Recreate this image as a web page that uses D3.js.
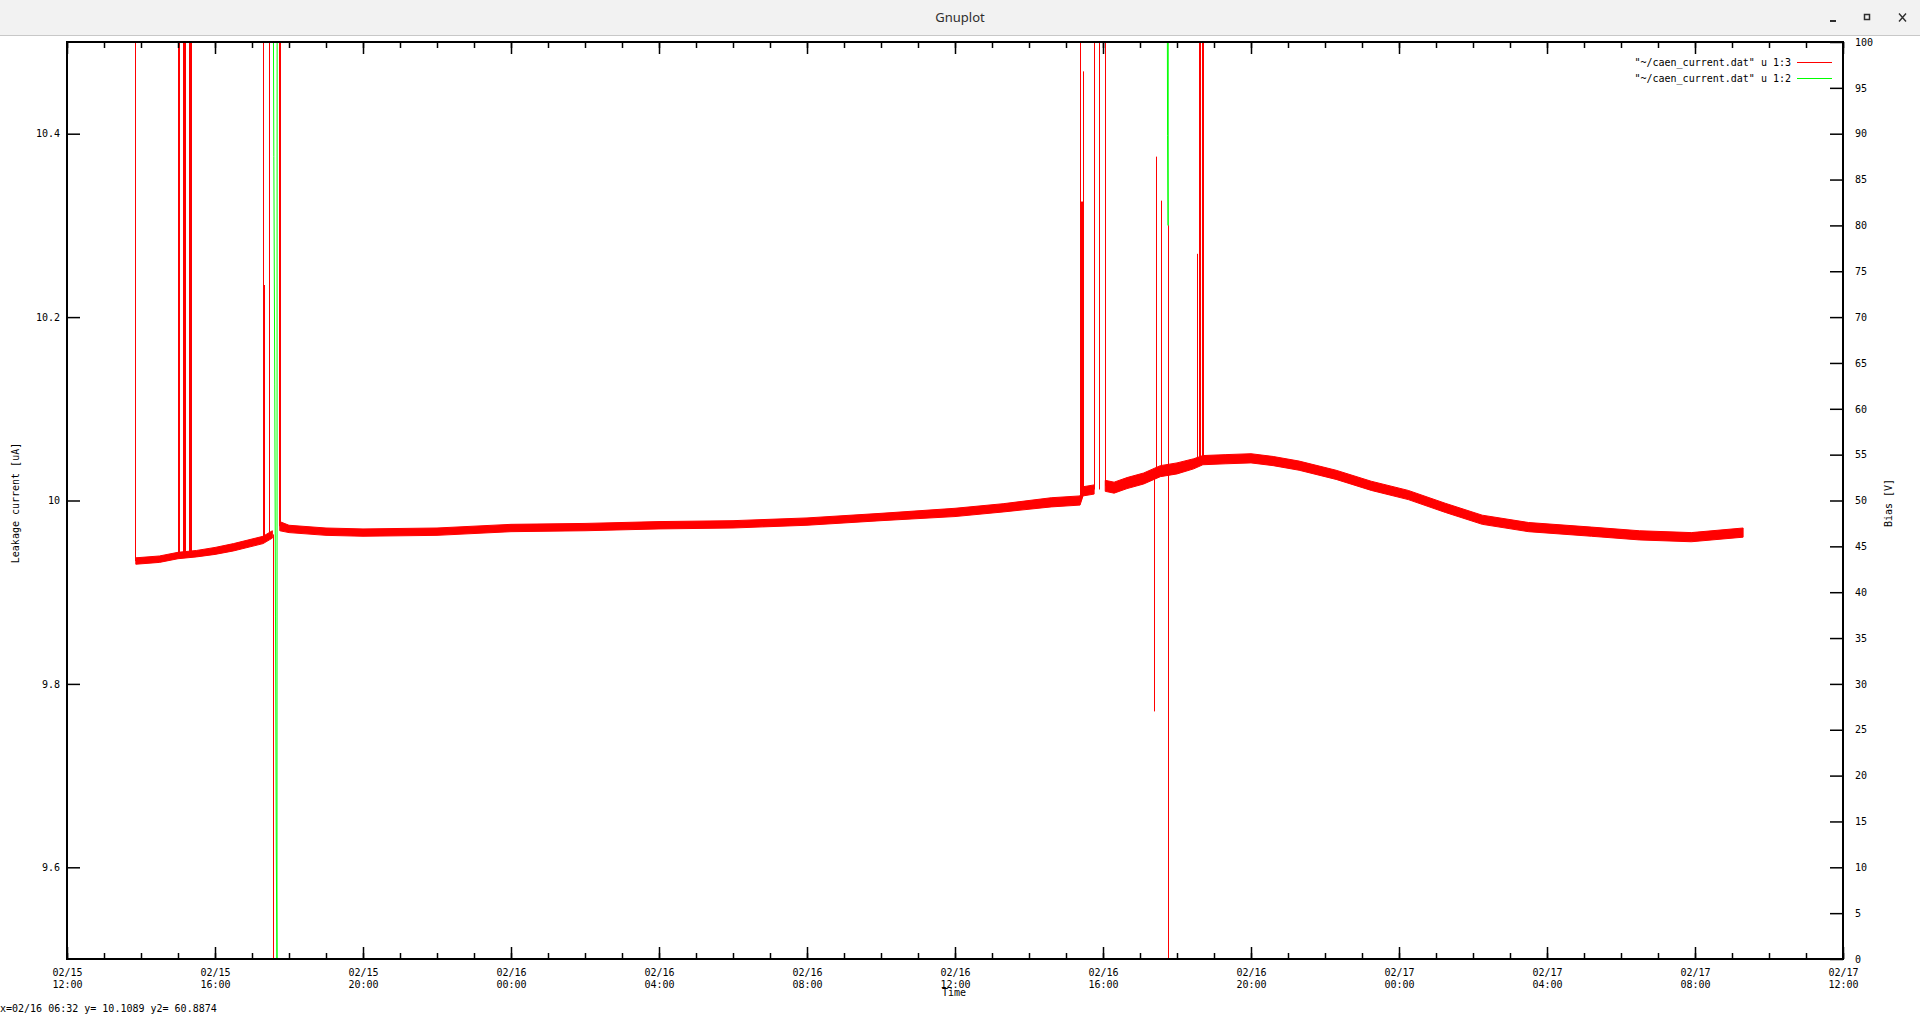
<!DOCTYPE html>
<html>
<head>
<meta charset="utf-8">
<script src="https://cdn.jsdelivr.net/npm/d3@7"></script>
<style>
  html, body { margin: 0; padding: 0; background: #fff; overflow: hidden; }
  svg { display: block; }
  .gp text { font-family: 'DejaVu Sans Mono', monospace; font-size: 10px; fill: #000; }
</style>
</head>
<body>
<svg id="chart" width="1920" height="1014"></svg>
<script>
// time is in hours after 02/15 12:00
const t0 = new Date(2019, 1, 15, 12, 0);
const tEnd = new Date(2019, 1, 17, 12, 0);

// centre of the noisy current band (uA), null = gap (trace off scale)
const trendHours = [1.86, 2.5, 3.0, 3.5, 4.0, 4.5, 5.0, 5.3, 5.55, 5.65,
  5.75, 6.0, 7.0, 8.0, 10.0, 12.0, 14.0, 16.0, 18.0, 20.0, 22.0, 24.0, 25.3, 26.6, 27.38,
  27.46, 27.76, 27.9,
  28.06, 28.3, 28.65, 29.1, 29.55, 30.0, 30.45, 30.7, 31.3, 32.0, 32.6, 33.3, 34.3,
  35.25, 36.25, 37.25, 38.25, 39.5, 41.2, 42.5, 43.9, 45.3];
const trendCurrent = [9.934, 9.936, 9.940, 9.942, 9.945, 9.949, 9.954, 9.957, 9.963, null,
  9.972, 9.969, 9.966, 9.965, 9.966, 9.970, 9.971, 9.973, 9.974, 9.977, 9.982, 9.987, 9.992, 9.998, 10.000,
  10.010, 10.012, null,
  10.016, 10.014, 10.019, 10.024, 10.032, 10.035, 10.040, 10.044, 10.045, 10.046, 10.043, 10.038, 10.028,
  10.016, 10.006, 9.992, 9.979, 9.971, 9.966, 9.962, 9.960, 9.965];
// half height of the noise band (uA)
const trendSpread = [0.0035, 0.0035, 0.0035, 0.0035, 0.0038, 0.004, 0.004, 0.004, 0.004, 0,
  0.005, 0.004, 0.004, 0.004, 0.004, 0.004, 0.004, 0.004, 0.004, 0.004, 0.004, 0.0045, 0.0045, 0.005, 0.005,
  0.005, 0.005, 0,
  0.006, 0.006, 0.006, 0.006, 0.006, 0.006, 0.0055, 0.005, 0.005, 0.005, 0.005, 0.005, 0.005,
  0.005, 0.005, 0.005, 0.005, 0.005, 0.005, 0.005, 0.005, 0.005];

// vertical jumps of the current trace: [hour, from uA, to uA]
const spikes = [
  [1.84, 10.6, 9.934],
  [3.01, 9.940, 10.6], [3.035, 9.940, 10.6],
  [3.145, 9.941, 10.6], [3.17, 9.941, 10.6], [3.195, 9.941, 10.6],
  [3.29, 9.942, 10.6], [3.315, 9.942, 10.6], [3.34, 9.942, 10.6],
  [5.30, 9.957, 10.6], [5.325, 9.957, 10.235], [5.335, 9.957, 10.235],
  [5.47, 9.961, 10.6],
  [5.575, 9.963, 9.4],
  [5.72, 10.6, 9.972], [5.745, 10.6, 9.972],
  [27.385, 10.000, 10.6], [27.41, 10.000, 10.326], [27.43, 10.003, 10.326], [27.455, 10.008, 10.468],
  [27.75, 10.012, 10.6], [27.77, 10.6, 10.484], [27.895, 10.6, 10.012], [28.06, 10.6, 10.016],
  [29.39, 10.031, 9.77], [29.445, 10.375, 10.031], [29.58, 10.327, 10.033],
  [29.745, 10.30, 9.4], [29.77, 10.30, 9.4],
  [30.55, 10.269, 10.040], [30.59, 10.6, 10.040], [30.62, 10.6, 10.040],
  [30.665, 10.6, 10.042], [30.69, 10.6, 10.042]
];

// bias trace (V), off scale most of the time
const biasHours = [1.84, 5.565, 5.59, 5.615, 5.635, 5.655, 5.675, 5.68, 29.73, 29.745, 29.76, 29.765, 45.3];
const biasVolts = [120, 120, 87.5, 62.6, 37.4, 12.1, 0, 120, 120, 89.8, 80.0, 120, 120];

const yTicks = [9.6, 9.8, 10, 10.2, 10.4];
const y2Ticks = d3.range(0, 101, 5);
const legendLabels = ['"~/caen_current.dat" u 1:3', '"~/caen_current.dat" u 1:2'];
const statusText = 'x=02/16 06:32 y= 10.1089 y2= 60.8874';

const hour = (h) => new Date(t0.getTime() + h * 3600e3);

const margin = { top: 42, right: 1843, bottom: 959, left: 67 };

const svg = d3.select('#chart');

// window title bar
svg.append('rect').attr('x', 0).attr('y', 0).attr('width', 1920).attr('height', 35).attr('fill', '#f2f2f2');
svg.append('line').attr('x1', 0).attr('x2', 1920).attr('y1', 35.5).attr('y2', 35.5).attr('stroke', '#c8c8c8');
svg.append('text').attr('x', 960).attr('y', 22).attr('text-anchor', 'middle')
  .style('font-family', "'Noto Sans', sans-serif").style('font-size', '13px').attr('fill', '#2e2e2e')
  .text('Gnuplot');
svg.append('rect').attr('x', 1830).attr('y', 20).attr('width', 6).attr('height', 2).attr('fill', '#2e2e2e');
svg.append('rect').attr('x', 1864.5).attr('y', 14.5).attr('width', 5).attr('height', 5)
  .attr('fill', 'none').attr('stroke', '#2e2e2e').attr('stroke-width', 1.5);
svg.append('path').attr('d', 'M1899,13.5L1906,21.5M1906,13.5L1899,21.5').attr('stroke', '#2e2e2e').attr('stroke-width', 1.4);

const g = svg.append('g').attr('class', 'gp');

const x = d3.scaleTime().domain([t0, tEnd]).range([margin.left, margin.right]);
const y = d3.scaleLinear().domain([9.5, 10.5]).range([margin.bottom, margin.top]);
const y2 = d3.scaleLinear().domain([0, 100]).range([margin.bottom, margin.top]);

g.append('clipPath').attr('id', 'plotclip')
  .append('rect')
  .attr('x', margin.left).attr('y', margin.top)
  .attr('width', margin.right - margin.left).attr('height', margin.bottom - margin.top);

// current trace (red)
const trend = trendHours.map((h, i) => ({ date: hour(h), v: trendCurrent[i], s: trendSpread[i] }));
const band = d3.area()
  .defined((d) => d.v != null)
  .x((d) => x(d.date))
  .y0((d) => y(d.v - d.s))
  .y1((d) => y(d.v + d.s));

const plot = g.append('g').attr('clip-path', 'url(#plotclip)');
plot.append('path').datum(trend).attr('d', band).attr('fill', '#ff0000')
  .attr('stroke', '#ff0000').attr('stroke-width', 1);

plot.append('g').selectAll('line')
  .data(spikes)
  .join('line')
  .attr('x1', (d) => Math.round(x(hour(d[0]))) + 0.5)
  .attr('x2', (d) => Math.round(x(hour(d[0]))) + 0.5)
  .attr('y1', (d) => y(d[1]))
  .attr('y2', (d) => y(d[2]))
  .attr('stroke', '#ff0000')
  .attr('stroke-width', 1);

// bias trace (green)
const bias = biasHours.map((h, i) => ({ date: hour(h), v: biasVolts[i] }));
plot.append('path').datum(bias)
  .attr('d', d3.line().x((d) => x(d.date)).y((d) => y2(d.v)))
  .attr('fill', 'none').attr('stroke', '#00ff00').attr('stroke-width', 1);

// axes
const fmtDay = d3.timeFormat('%m/%d');
const fmtTime = d3.timeFormat('%H:%M');

g.append('g').attr('transform', `translate(0,${margin.bottom})`)
  .call(d3.axisBottom(x).ticks(d3.timeHour.every(1)).tickSize(-6).tickFormat(''));
g.append('g').attr('transform', `translate(0,${margin.top})`)
  .call(d3.axisTop(x).ticks(d3.timeHour.every(1)).tickSize(-6).tickFormat(''));
g.append('g').attr('transform', `translate(0,${margin.top})`)
  .call(d3.axisTop(x).ticks(d3.timeHour.every(4)).tickSize(-12).tickFormat(''));

const xAxis = g.append('g').attr('transform', `translate(0,${margin.bottom})`)
  .call(d3.axisBottom(x).ticks(d3.timeHour.every(4)).tickSize(-12).tickPadding(10));
xAxis.selectAll('.tick text').each(function (d) {
  const t = d3.select(this).attr('dy', null).attr('y', 17).text(null);
  t.append('tspan').attr('x', 0).text(fmtDay(d));
  t.append('tspan').attr('x', 0).attr('dy', 12).text(fmtTime(d));
});

g.append('g').attr('transform', `translate(${margin.left},0)`)
  .call(d3.axisLeft(y).tickValues(yTicks).tickSize(-13).tickPadding(7)
    .tickFormat((d) => String(+d.toFixed(1))));

g.append('g').attr('transform', `translate(${margin.right},0)`)
  .call(d3.axisRight(y2).tickValues(y2Ticks).tickSize(-13).tickPadding(12));

g.selectAll('.domain').remove();
g.selectAll('.tick line').attr('stroke', '#000').attr('stroke-width', 1.5);
g.selectAll('.tick text').attr('fill', '#000').style('font-family', "'DejaVu Sans Mono', monospace").style('font-size', '10px');

g.append('rect')
  .attr('x', margin.left).attr('y', margin.top)
  .attr('width', margin.right - margin.left).attr('height', margin.bottom - margin.top)
  .attr('fill', 'none').attr('stroke', '#000').attr('stroke-width', 2);

// axis titles
g.append('text').attr('transform', 'translate(19,503) rotate(-90)').attr('text-anchor', 'middle')
  .text('Leakage current [uA]');
g.append('text').attr('transform', 'translate(1892,503) rotate(-90)').attr('text-anchor', 'middle')
  .text('Bias [V]');
g.append('text').attr('x', 954).attr('y', 996).attr('text-anchor', 'middle').text('Time');

// key
const legendColors = ['#ff0000', '#00ff00'];
legendLabels.forEach((lab, i) => {
  const ly = 62 + i * 16;
  g.append('text').attr('x', 1791).attr('y', ly + 3.5).attr('text-anchor', 'end').text(lab);
  g.append('line').attr('x1', 1797).attr('x2', 1832).attr('y1', ly + 0.5).attr('y2', ly + 0.5)
    .attr('stroke', legendColors[i]).attr('stroke-width', 1);
});

// status line
g.append('text').attr('x', 0).attr('y', 1012).text(statusText);
</script>
</body>
</html>
